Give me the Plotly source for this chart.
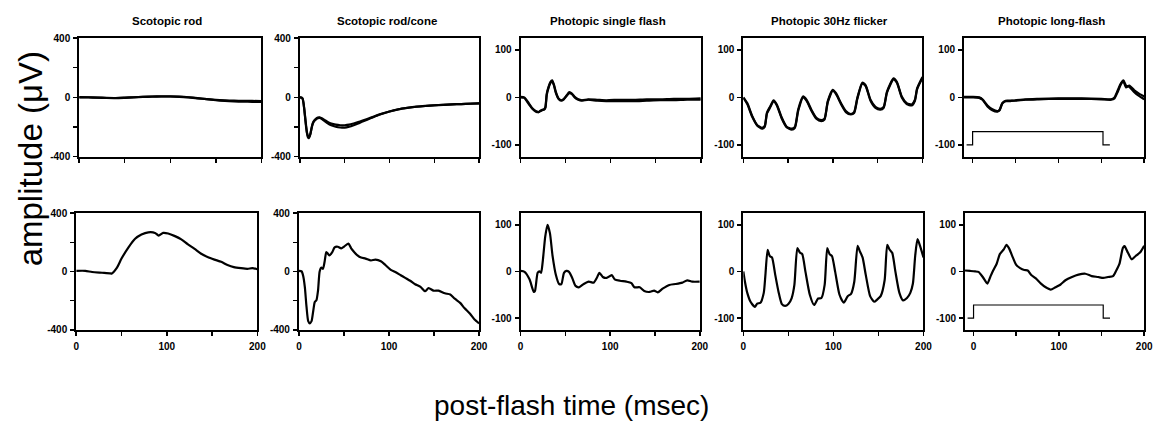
import plotly.graph_objects as go

# ---------------- DATA ----------------
titles = ["Scotopic rod", "Scotopic rod/cone", "Photopic single flash",
          "Photopic 30Hz flicker", "Photopic long-flash"]

# Scotopic rod (top: two overlaid traces)
rod_top_t = [0, 10, 20, 30, 40, 50, 60, 70, 80, 90, 100, 110, 120, 130, 140, 150, 160, 170, 180, 190, 200]
rod_top_a = [0, 0, -2, -4, -5, -3, 0, 3, 5, 6, 6, 4, 0, -6, -12, -17, -20, -22, -23, -24, -25]
rod_top_b = [2, 1, -1, -3, -4, -2, 1, 4, 6, 7, 7, 5, 1, -5, -12, -19, -24, -27, -29, -30, -31]
rod_bot_t = [0, 10, 17.5, 28.5, 37.6, 39, 45, 50, 57.7, 65, 72, 79.6, 87, 91, 96, 101.5, 109, 116, 123,
             130.7, 138, 145, 152.6, 160, 167, 174, 182, 189, 194.5, 200]
rod_bot_v = [4, 4, -4, -9, -13, -15, 26, 88, 165, 224, 253, 268, 264, 246, 264, 260, 242, 220, 187,
             154, 121, 99, 81, 66, 44, 29, 22, 18, 22, 15]

# Scotopic rod/cone
rc_top_t = [0, 2, 3, 4, 5, 6, 7, 8, 9, 10, 11, 12, 13, 14, 15, 16, 18, 20, 22, 25, 28, 31, 35, 40, 45, 50,
            55, 60, 65, 70, 80, 90, 100, 110, 120, 130, 140, 150, 160, 170, 180, 190, 200]
rc_top_a = [0, -2, -10, -40, -90, -150, -205, -245, -270, -275, -262, -240, -210, -185, -170, -160, -148,
            -140, -138, -148, -162, -175, -188, -198, -203, -204, -198, -188, -176, -163, -138, -114, -95,
            -80, -70, -62, -57, -53, -50, -47, -45, -42, -40]
rc_top_b = [0, -2, -8, -35, -85, -140, -195, -240, -262, -268, -258, -236, -206, -180, -165, -155, -143,
            -136, -134, -142, -154, -165, -176, -184, -188, -188, -184, -176, -167, -157, -135, -113, -95,
            -81, -71, -63, -58, -54, -50, -47, -45, -43, -41]
rc_bot_t = [0, 3, 4.8, 6.6, 8.4, 10.3, 12, 14, 15.8, 17.6, 19.4, 21.2, 23, 24.9, 26.7, 28.5, 30.4, 32.2,
            34, 37, 39.6, 43.2, 46.9, 50.5, 55, 58, 61.5, 65, 69, 74, 80, 85, 91, 96, 102, 107, 113, 118,
            124, 129, 135, 140, 144, 149.5, 155, 162, 168, 173, 179, 184, 190, 195, 200]
rc_bot_v = [4, 0, -33, -110, -242, -341, -356, -341, -275, -209, -198, -132, 0, 26, 18, 66, 132, 121,
            110, 132, 165, 169, 158, 172, 191, 158, 132, 110, 95, 88, 75, 81, 70, 44, 11, -4, -26, -44,
            -66, -88, -106, -136, -114, -132, -132, -150, -158, -187, -216, -253, -290, -330, -356]

# Photopic single flash
ps_top_t = [0, 4, 9, 13, 17, 20, 22, 24, 26, 27.5, 29, 31, 33, 35, 37, 39, 42, 45, 48, 51, 54, 57, 60, 64,
            68, 75, 85, 95, 110, 125, 140, 155, 170, 185, 200]
ps_top_a = [0, -1, -14, -24, -30, -31, -29, -27, -26, -22, 5, 20, 30, 34, 25, 10, -3, -7, -4, 3, 9, 7, 0,
            -5, -7, -5, -7, -8, -8, -8, -7, -6, -6, -5, -5]
ps_top_b = [1, 0, -12, -23, -29, -31, -28, -26, -25, -20, 8, 22, 32, 36, 27, 12, -2, -6, -3, 4, 11, 8, 1,
            -4, -6, -4, -5, -6, -5, -5, -4, -4, -3, -3, -2]
ps_bot_t = [0, 4.4, 9.9, 14.7, 16, 19, 21, 22.8, 24.6, 27.5, 30, 32.7, 35.6, 39.3, 43, 45.5, 48.4, 51, 54,
            57.6, 61.3, 65, 70.5, 76, 81.5, 85, 88, 91.7, 96, 101.7, 105, 111, 118, 123.7, 127, 133, 138,
            144, 149, 153, 158.5, 166, 173, 180.5, 186, 191.6, 200]
ps_bot_v = [1, -1, -17, -44, -42, -3, 0, -3, 20, 75, 100, 82, 34, -7, -27, -27, -3, 1, -1, -14, -31, -34,
            -27, -22, -24, -14, -3, -12, -14, -8, -17, -20, -22, -25, -34, -34, -42, -44, -41, -45, -37,
            -29, -27, -24, -19, -22, -22]

# Photopic 30Hz flicker
fl_top_t = [0, 4.4, 9.9, 15.4, 20.9, 23.9, 26.4, 30, 33.8, 37.4, 43, 48.4, 54, 57.6, 61.3, 66.8, 70.5, 76,
            81.5, 87, 90.6, 94.3, 99.8, 103.5, 109, 114.5, 120, 123.7, 127.3, 132.8, 136.5, 142, 147.5,
            153, 156.7, 160.4, 167.7, 171.4, 176.9, 182.4, 188, 191.6, 194, 200]
fl_top_a = [-1, -14, -41, -59, -66, -62, -34, -21, -8, -17, -45, -63, -68, -64, -28, 0, -7, -28, -45, -50,
            -47, -10, 14, 7, -14, -31, -36, -33, -3, 29, 24, -7, -22, -26, -22, 10, 38, 31, 0, -14, -17,
            -7, 17, 41]
fl_top_b = [0, -12, -39, -58, -64, -60, -32, -19, -6, -15, -43, -62, -66, -62, -25, 2, -5, -26, -43, -48,
            -45, -8, 16, 9, -12, -29, -35, -31, -1, 31, 26, -5, -20, -24, -20, 12, 40, 33, 2, -12, -15,
            -5, 19, 43]
fl_bot_t = [0, 1.8, 4.4, 8, 12.8, 15.4, 19, 22.7, 24.5, 27, 29.3, 31.8, 35.5, 39, 42.8, 46.4, 50, 53.7,
            56.7, 60, 62.9, 65.4, 69, 73.8, 78.6, 83, 86.7, 90.3, 93.2, 95.8, 98.4, 102, 106.8, 111.5,
            115.9, 119.6, 123.2, 126.9, 129.4, 132.4, 136, 140.8, 145.2, 148.8, 152.5, 156.9, 159.8,
            162.3, 165.3, 168.9, 173.3, 177.3, 181.7, 185.4, 188.3, 190.8, 193.4, 196.3, 200]
fl_bot_v = [0, -22, -46, -65, -76, -69, -67, -46, -8, 46, 33, 30, -8, -43, -70, -74, -70, -57, -29, 50,
            40, 37, -1, -50, -72, -58, -57, -29, 50, 37, 33, -1, -50, -67, -53, -48, -22, 55, 43, 30, -8,
            -53, -65, -60, -53, -19, 57, 47, 40, -1, -46, -62, -57, -46, -26, 33, 69, 54, 30]

# Photopic long-flash
lf_top_t = [-10, 0, 7.7, 11.5, 17.3, 23, 28.8, 31.5, 34.6, 38.5, 44, 50, 61.5, 77, 100, 127, 150, 161.5,
            165.4, 169, 173, 175.8, 178.8, 182.7, 188.5, 194, 200]
lf_top_a = [0, 0, -1, -5, -19, -27, -30, -26, -12, -7, -7, -7, -5, -4, -3, -3, -4, -5, -2, 11, 28, 34, 21,
            25, 15, 8, 2]
lf_top_b = [1, 1, 0, -4, -17, -25, -29, -27, -13, -8, -8, -6, -4, -3, -2, -2, -3, -4, 0, 14, 30, 36, 25,
            22, 11, 3, -4]
lf_bot_t = [-10, -3.8, 1.9, 5.8, 10.8, 16.2, 20, 23, 27, 30.8, 35.4, 38.5, 41.5, 46, 50, 54.6, 59.6, 63.5,
            67.3, 73, 79, 84.6, 90.4, 96, 102, 107.7, 115.4, 123, 131, 138.5, 146, 152, 157.7, 163.5,
            167.3, 171, 175, 177, 181, 185.4, 190, 195.4, 200]
lf_bot_v = [2, 1, 0, -1, -12, -26, -10, 2, 16, 37, 47, 57, 50, 30, 14, 7, 3, 2, -7, -15, -26, -34, -39,
            -34, -28, -19, -12, -7, -5, -10, -12, -14, -12, -10, 2, 16, 50, 54, 40, 26, 33, 41, 55]

# Long-flash stimulus marker
stim_t = [-7, 0, 0, 152, 152, 160]
stim_v = [-100, -100, -72, -72, -100, -100]

# ---------------- FIGURE ----------------
W, H = 1169, 432
FONT = "Arial, Liberation Sans, Helvetica, sans-serif"

top_x = [(77, 261), (300, 481), (523, 705), (748, 929), (971, 1153)]
bot_x = [(74, 257), (299, 481), (523, 704), (748, 930), (972, 1153)]
top_y = (33, 155)
bot_y = (213, 333)

panels = [
    [(rod_top_t, rod_top_a), (rod_top_t, rod_top_b)],
    [(rc_top_t, rc_top_a), (rc_top_t, rc_top_b)],
    [(ps_top_t, ps_top_a), (ps_top_t, ps_top_b)],
    [(fl_top_t, fl_top_a), (fl_top_t, fl_top_b)],
    [(lf_top_t, lf_top_a), (lf_top_t, lf_top_b)],
    [(rod_bot_t, rod_bot_v)],
    [(rc_bot_t, rc_bot_v)],
    [(ps_bot_t, ps_bot_v)],
    [(fl_bot_t, fl_bot_v)],
    [(lf_bot_t, lf_bot_v)],
]

fig = go.Figure()
layout = dict(width=W, height=H, autosize=False, margin=dict(l=0, r=0, t=0, b=0),
              paper_bgcolor="white", plot_bgcolor="white", showlegend=False,
              font=dict(family=FONT, color="black"))

tickfont = dict(family=FONT, size=10, color="black", weight="bold")

for i, traces in enumerate(panels):
    row, col = divmod(i, 5)
    xn = "x" if i == 0 else f"x{i+1}"
    yn = "y" if i == 0 else f"y{i+1}"
    xk = "xaxis" if i == 0 else f"xaxis{i+1}"
    yk = "yaxis" if i == 0 else f"yaxis{i+1}"
    for (t, v) in traces:
        fig.add_trace(go.Scatter(x=t, y=v, mode="lines", xaxis=xn, yaxis=yn,
                                 line=dict(color="black", width=2.2, shape="spline", smoothing=0.6),
                                 hoverinfo="skip"))
    if col == 4:
        fig.add_trace(go.Scatter(x=stim_t, y=stim_v, mode="lines", xaxis=xn, yaxis=yn,
                                 line=dict(color="black", width=1.2), hoverinfo="skip"))
    xs = top_x[col] if row == 0 else bot_x[col]
    ys = top_y if row == 0 else bot_y
    xr = [-10, 200] if col == 4 else [0, 200]
    if col < 2:
        yr = [-400, 400]
        yt = [-400, -200, 0, 200, 400]
        ytt = ["-400", "", "0", "", "400"]
    else:
        yr = [-125, 125]
        yt = [-100, 0, 100]
        ytt = ["-100", "0", "100"]
    common = dict(showgrid=False, zeroline=False, showline=True, linecolor="black", linewidth=2,
                  mirror=True, ticks="outside", ticklen=4, tickwidth=1.5, tickcolor="black",
                  tickfont=tickfont, fixedrange=True)
    layout[xk] = dict(common, domain=[xs[0] / W, xs[1] / W], range=xr, anchor=yn,
                      tickmode="array", tickvals=[0, 50, 100, 150, 200],
                      ticktext=["0", "", "100", "", "200"] if row == 1 else ["", "", "", "", ""],
                      ticklabelstandoff=2)
    layout[yk] = dict(common, domain=[1 - ys[1] / H, 1 - ys[0] / H], range=yr, anchor=xn,
                      tickmode="array", tickvals=yt, ticktext=ytt, ticklabelstandoff=1)

annotations = []
for col, title in enumerate(titles):
    cx = (top_x[col][0] + top_x[col][1]) / 2 - 3
    annotations.append(dict(text=title, x=cx / W, y=1 - 15 / H, xref="paper", yref="paper",
                            xanchor="center", yanchor="middle", showarrow=False,
                            font=dict(family=FONT, size=11.5, color="black", weight="bold")))
annotations.append(dict(text="amplitude (\u03bcV)", x=28 / W, y=1 - 157 / H, xref="paper", yref="paper",
                        xanchor="center", yanchor="middle", textangle=-90, showarrow=False,
                        font=dict(family=FONT, size=33, color="black")))
annotations.append(dict(text="post-flash time (msec)", x=574 / W, y=1 - 411 / H, xref="paper",
                        yref="paper", xanchor="center", yanchor="middle", showarrow=False,
                        font=dict(family=FONT, size=28, color="black")))
layout["annotations"] = annotations

fig.update_layout(**layout)
fig.write_html("out.html", config={"displayModeBar": False, "staticPlot": True},
               post_script="document.body.style.margin='0';")
